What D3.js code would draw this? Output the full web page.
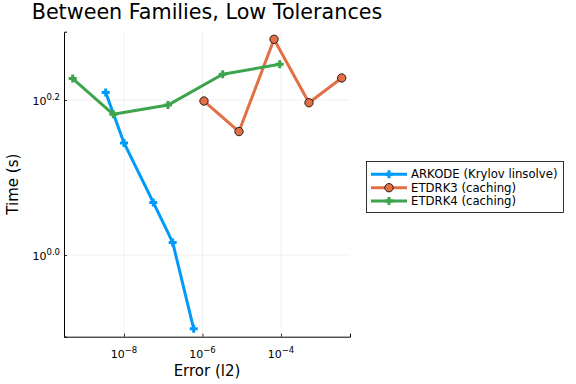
<!DOCTYPE html>
<head>
    <meta charset="utf-8">
    <script src="https://cdn.jsdelivr.net/npm/d3@7"></script>
    <style>
        body { margin: 0; background: #fff; }
        text { font-family: "DejaVu Sans", sans-serif; fill: #000; }
    </style>
</head>
<body>
    <div id="chart"></div>
    <script>
        const width = 576, height = 384;
        const margin = { left: 64, right: 226, top: 31.7, bottom: 47.3 };

        // series names
        const seriesNames = ["ARKODE (Krylov linsolve)", "ETDRK3 (caching)", "ETDRK4 (caching)"];
        const seriesColors = ["#009AFA", "#E26F46", "#3DA44D"];
        const seriesMarkers = ["cross", "circle", "cross"];

        // error (x) and time (y) per series
        const arkodeErr = [3.42e-9, 1.0e-8, 5.57e-8, 1.74e-7, 5.97e-7];
        const arkodeTime = [1.621, 1.395, 1.169, 1.038, 0.803];
        const etdrk3Err = [1.09e-6, 8.51e-6, 6.64e-5, 5.16e-4, 3.52e-3];
        const etdrk3Time = [1.580, 1.443, 1.898, 1.572, 1.692];
        const etdrk4Err = [4.93e-10, 5.34e-9, 1.32e-7, 3.27e-6, 9.27e-5];
        const etdrk4Time = [1.689, 1.519, 1.561, 1.711, 1.762];

        // ticks
        const xTickExps = [-8, -6, -4];
        const yTickExps = ["0.0", "0.2"];

        const series = [
            { name: seriesNames[0], color: seriesColors[0], marker: seriesMarkers[0], x: arkodeErr, y: arkodeTime },
            { name: seriesNames[1], color: seriesColors[1], marker: seriesMarkers[1], x: etdrk3Err, y: etdrk3Time },
            { name: seriesNames[2], color: seriesColors[2], marker: seriesMarkers[2], x: etdrk4Err, y: etdrk4Time }
        ];

        const svg = d3.select("#chart").append("svg")
            .attr("width", width)
            .attr("height", height);

        const x = d3.scaleLog()
            .domain([Math.pow(10, -9.529), Math.pow(10, -2.242)])
            .range([margin.left, width - margin.right]);
        const y = d3.scaleLog()
            .domain([Math.pow(10, -0.1054), Math.pow(10, 0.2881)])
            .range([height - margin.bottom, margin.top]);

        const x0 = margin.left, x1 = width - margin.right;
        const y0 = height - margin.bottom, y1 = margin.top;

        // grid
        const grid = svg.append("g");
        xTickExps.forEach(e => {
            grid.append("line")
                .attr("x1", x(Math.pow(10, e))).attr("x2", x(Math.pow(10, e)))
                .attr("y1", y0).attr("y2", y1)
                .attr("stroke", "#000").attr("stroke-opacity", 0.1).attr("stroke-width", 0.6);
        });
        yTickExps.forEach(e => {
            grid.append("line")
                .attr("x1", x0).attr("x2", x1)
                .attr("y1", y(Math.pow(10, +e))).attr("y2", y(Math.pow(10, +e)))
                .attr("stroke", "#000").attr("stroke-opacity", 0.1).attr("stroke-width", 0.6);
        });

        // axes
        const xAxis = svg.append("g")
            .attr("transform", `translate(0,${y0})`)
            .call(d3.axisBottom(x).tickValues(xTickExps.map(e => Math.pow(10, e))).tickSize(-3).tickFormat(""));
        const yAxis = svg.append("g")
            .attr("transform", `translate(${x0},0)`)
            .call(d3.axisLeft(y).tickValues(yTickExps.map(e => Math.pow(10, +e))).tickSize(-3).tickFormat(""));
        [xAxis, yAxis].forEach(a => {
            a.select(".domain").attr("stroke", "#000").attr("stroke-width", 1);
            a.selectAll(".tick line").attr("stroke", "#000").attr("stroke-width", 0.8);
        });

        // tick labels with superscripts
        xTickExps.forEach(e => {
            const t = svg.append("text")
                .attr("x", x(Math.pow(10, e)))
                .attr("y", y0 + 21)
                .attr("text-anchor", "middle")
                .attr("font-size", 11);
            t.append("tspan").text("10");
            t.append("tspan").attr("dy", -5).attr("font-size", 8.5).text("\u2212" + (-e));
        });
        yTickExps.forEach(e => {
            const t = svg.append("text")
                .attr("x", x0 - 4)
                .attr("y", y(Math.pow(10, +e)) + 5)
                .attr("text-anchor", "end")
                .attr("font-size", 11);
            t.append("tspan").text("10");
            t.append("tspan").attr("dy", -5).attr("font-size", 8.5).text(e);
        });

        // axis titles
        svg.append("text")
            .attr("x", (x0 + x1) / 2).attr("y", 376)
            .attr("text-anchor", "middle").attr("font-size", 15)
            .text("Error (l2)");
        svg.append("text")
            .attr("transform", `translate(18,${(y0 + y1) / 2}) rotate(-90)`)
            .attr("text-anchor", "middle").attr("font-size", 15)
            .text("Time (s)");
        svg.append("text")
            .attr("x", (x0 + x1) / 2).attr("y", 19)
            .attr("text-anchor", "middle").attr("font-size", 20.7)
            .text("Between Families, Low Tolerances");

        // marker drawer
        function drawMarker(g, cx, cy, s) {
            if (s.marker === "circle") {
                g.append("circle").attr("cx", cx).attr("cy", cy).attr("r", 4.2)
                    .attr("fill", s.color).attr("stroke", "#000").attr("stroke-width", 0.8);
            } else {
                g.append("path")
                    .attr("d", `M${cx - 4},${cy}H${cx + 4}M${cx},${cy - 4}V${cy + 4}`)
                    .attr("stroke", s.color).attr("stroke-width", 3);
            }
        }

        const line = d3.line().x(d => x(d[0])).y(d => y(d[1]));
        const plot = svg.append("g");
        series.forEach(s => {
            const pts = s.x.map((v, i) => [v, s.y[i]]);
            plot.append("path").datum(pts)
                .attr("d", line)
                .attr("fill", "none")
                .attr("stroke", s.color)
                .attr("stroke-width", 3)
                .attr("stroke-linejoin", "round");
            pts.forEach(p => drawMarker(plot, x(p[0]), y(p[1]), s));
        });

        // legend
        const legend = svg.append("g");
        legend.append("rect")
            .attr("x", 366.5).attr("y", 161.5).attr("width", 197).attr("height", 51)
            .attr("fill", "#fff").attr("stroke", "#000").attr("stroke-width", 0.8);
        series.forEach((s, i) => {
            const ly = 174.3 + i * 13.4;
            legend.append("line")
                .attr("x1", 371).attr("x2", 407).attr("y1", ly).attr("y2", ly)
                .attr("stroke", s.color).attr("stroke-width", 3);
            drawMarker(legend, 389, ly, s);
            legend.append("text")
                .attr("x", 411).attr("y", ly + 4)
                .attr("font-size", 11.7)
                .text(s.name);
        });
    </script>
</body>
